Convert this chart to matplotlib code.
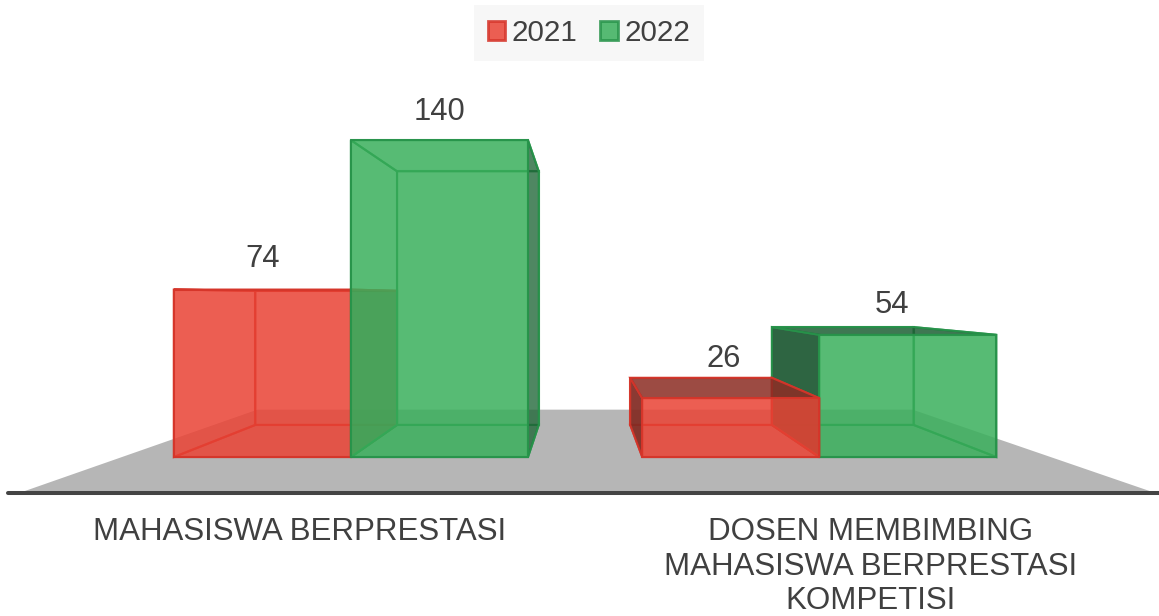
import matplotlib
matplotlib.use('Agg')
import matplotlib.pyplot as plt
from matplotlib.patches import Patch, Polygon

plt.rcParams['font.family'] = ['Liberation Sans', 'DejaVu Sans']

# data
categories = ['MAHASISWA BERPRESTASI', 'DOSEN MEMBIMBING\nMAHASISWA BERPRESTASI\nKOMPETISI']
series_names = ['2021', '2022']
values_2021 = [74, 26]
values_2022 = [140, 54]

# colours per series: base, edge, dark face
base_col = ['#EA4335', '#3AB05C']
edge_col = ['#D5352A', '#27934A']
dark_col = ['#7A2A22', '#1C5230']
text_col = '#404040'

# perspective of the 3d box
bar_w = 0.378
depth = 0.2
vanish_x = 0.493
vanish_v = 71.1
floor_v = -15.0
floor_depth = 0.4175

# gap between bar top and its label, per series and category
label_gap = [[7, 1.7], [5.7, 3.1]]


def project(x, v, d):
    return (x + (vanish_x - x) * d, v + (vanish_v - v) * d)


def quad(ax, pts, col, edge, alpha, z):
    ax.add_patch(Polygon(pts, closed=True, facecolor=col, alpha=alpha, edgecolor='none', zorder=z))
    ax.add_patch(Polygon(pts, closed=True, fill=False, edgecolor=edge, linewidth=1.5, alpha=0.9, zorder=z))


def draw_box(ax, x0, x1, v, s, z):
    base, edge, dark = base_col[s], edge_col[s], dark_col[s]
    f = lambda x, y: project(x, y, 0)
    b = lambda x, y: project(x, y, depth)
    faces = {
        'back': [b(x0, 0), b(x1, 0), b(x1, v), b(x0, v)],
        'bottom': [f(x0, 0), f(x1, 0), b(x1, 0), b(x0, 0)],
        'left': [f(x0, 0), f(x0, v), b(x0, v), b(x0, 0)],
        'right': [f(x1, 0), f(x1, v), b(x1, v), b(x1, 0)],
        'top': [f(x0, v), f(x1, v), b(x1, v), b(x0, v)],
    }
    # faces that look towards the viewer are the dark ones
    outer = []
    if x0 > vanish_x:
        outer.append('left')
    if x1 < vanish_x:
        outer.append('right')
    if v < vanish_v:
        outer.append('top')
    for name in faces:
        if name not in outer:
            quad(ax, faces[name], base, edge, 0.5, z)
    face_alpha = {'top': 0.72, 'left': 0.86, 'right': 0.6}
    for name in outer:
        quad(ax, faces[name], dark, edge, face_alpha[name], z + 0.1)
    quad(ax, [f(x0, 0), f(x1, 0), f(x1, v), f(x0, v)], base, edge, 0.7, z + 0.2)


fig = plt.figure(figsize=(11.59, 6.16), dpi=100)
ax = fig.add_axes([0, 0, 1, 1])
ax.set_xlim(-0.749, 1.725)
ax.set_ylim(-70.2, 201.9)
ax.axis('off')

# floor and base line
floor_l, floor_r = -0.696, 1.705
ax.add_patch(Polygon([project(floor_l, floor_v, 0), project(floor_r, floor_v, 0),
                      project(floor_r, floor_v, floor_depth), project(floor_l, floor_v, floor_depth)],
                     closed=True, facecolor='#B6B6B6', edgecolor='none', zorder=1))
ax.plot([-0.732, 1.725], [-15.7, -15.7], color='#444444', linewidth=2.9, solid_capstyle='round', zorder=1.5)

# bars, the one nearest the vanishing point goes last
boxes = []
for i in range(len(categories)):
    boxes.append((i - bar_w, i, values_2021[i], 0, label_gap[0][i]))
    boxes.append((i, i + bar_w, values_2022[i], 1, label_gap[1][i]))
boxes.sort(key=lambda b: -abs((b[0] + b[1]) / 2 - vanish_x))
for n, (x0, x1, v, s, gap) in enumerate(boxes):
    draw_box(ax, x0, x1, v, s, 2 + n)

# value labels
for x0, x1, v, s, gap in boxes:
    lx, ly = project((x0 + x1) / 2, v, 0)
    if v < vanish_v:
        lx = project((x0 + x1) / 2, v, 0.05)[0]
        ly = project(lx, v, depth)[1]
    ax.text(lx, ly + gap, str(v), ha='center', va='bottom', fontsize=22.3, color=text_col, zorder=20)

# category labels
for i, name in enumerate(categories):
    ax.text(i - 0.11 if i == 0 else i + 0.109, -26.5, name, ha='center', va='top', fontsize=22.5,
            color=text_col, linespacing=1.2, zorder=20)

# legend
handles = [Patch(facecolor=base_col[i], alpha=0.85, edgecolor=edge_col[i], linewidth=2) for i in range(2)]
leg = ax.legend(handles, series_names, ncol=2, loc='upper center', bbox_to_anchor=(0.508, 0.992),
                fontsize=21.3, frameon=True, fancybox=False, framealpha=1, facecolor='#F7F7F7', edgecolor='none',
                handlelength=0.6, handleheight=0.6, handletextpad=0.22, columnspacing=0.75,
                borderpad=0.47, borderaxespad=0, labelcolor=text_col)
leg.set_zorder(30)

fig.savefig('out.png', dpi=100)
